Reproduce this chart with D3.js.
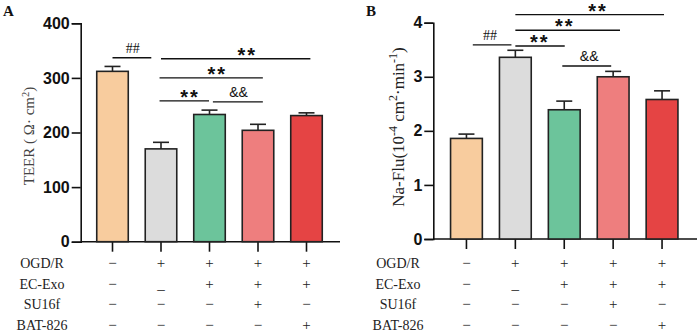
<!DOCTYPE html>
<html>
<head>
<meta charset="utf-8">
<script src="https://cdn.jsdelivr.net/npm/d3@7"></script>
<style>
  body { margin: 0; background: #fff; }
  svg { display: block; }
  .tick text { font-family: "Liberation Sans", Arial, sans-serif; font-weight: bold; font-size: 16px; fill: #111; }
</style>
</head>
<body>
<svg id="chart" width="699" height="333"></svg>
<script>
// groups, shared by both panels
const groups = ["Control", "OGD/R", "OGD/R+EC-Exo", "OGD/R+EC-Exo+SU16f", "OGD/R+EC-Exo+BAT-826"];
const barColors = ["#F8CC9E", "#DCDCDC", "#6CC49B", "#EE7E7E", "#E54444"];

// panel A: TEER
const teerMean = [312, 170, 233, 204, 231];
const teerErr = [9, 12, 8, 11, 5];
const teerTicks = [0, 100, 200, 300, 400];
// [from group, to group, y value, label, label position] (group positions, fractional)
const teerSig = [
  [0.0, 0.8, 337, "##", 0.42],
  [1.0, 4.08, 335, "**", 2.78],
  [0.97, 3.1, 300, "**", 2.16],
  [0.97, 1.99, 258, "**", 1.6],
  [2.07, 3.1, 256, "&&", 2.6]
];

// panel B: Na-Flu
const fluMean = [1.86, 3.36, 2.39, 3.0, 2.58];
const fluErr = [0.08, 0.13, 0.16, 0.1, 0.16];
const fluTicks = [0, 1, 2, 3, 4];
const fluSig = [
  [0.13, 0.92, 3.59, "##", 0.48],
  [1.0, 2.01, 3.57, "**", 1.5],
  [1.0, 3.14, 3.86, "**", 2.01],
  [1.0, 4.04, 4.15, "**", 2.69],
  [1.96, 2.96, 3.2, "&&", 2.51]
];

// treatment table under the bars
const conditions = ["OGD/R", "EC-Exo", "SU16f", "BAT-826"];
const signs = [
  ["\u2212", "+", "+", "+", "+"],
  ["\u2212", "_", "+", "+", "+"],
  ["\u2212", "\u2212", "\u2212", "+", "\u2212"],
  ["\u2212", "\u2212", "\u2212", "\u2212", "+"]
];

const svg = d3.select("#chart");
const SANS = "'Liberation Sans', Arial, sans-serif";
const SERIF = "'Liberation Serif', 'Times New Roman', serif";

function drawPanel(cfg) {
  const g = svg.append("g");

  const y = d3.scaleLinear().domain(cfg.yDomain).range([cfg.y0, cfg.yTop]);
  const x = d3.scaleBand().domain(groups)
    .range(cfg.bandRange).paddingInner(0.35).paddingOuter(0.175);
  const step = x.step();
  const cx0 = x(groups[0]) + x.bandwidth() / 2;
  const pos = (i) => cx0 + i * step; // fractional group position -> px

  // y axis
  const yAxis = g.append("g")
    .attr("transform", `translate(${cfg.axisX},0)`)
    .call(d3.axisLeft(y).tickValues(cfg.ticks).tickFormat(d3.format("d")).tickSize(9).tickPadding(2));
  yAxis.select(".domain").attr("stroke", "#111").attr("stroke-width", 1.6);
  yAxis.selectAll(".tick line").attr("stroke", "#111").attr("stroke-width", 1.6);

  // x axis line with ticks pointing down at each bar
  const xAxis = g.append("g")
    .attr("transform", `translate(0,${cfg.y0})`)
    .call(d3.axisBottom(x).tickSize(10).tickFormat(""));
  xAxis.select(".domain").attr("d", `M${cfg.axisX},0H${cfg.axisEnd}`)
    .attr("stroke", "#111").attr("stroke-width", 1.6);
  xAxis.selectAll(".tick line").attr("stroke", "#111").attr("stroke-width", 1.6);

  // error bars (drawn under bars)
  const capW = 16;
  const err = g.append("g").attr("stroke", "#222").attr("stroke-width", 1.6);
  groups.forEach((k, i) => {
    const c = x(k) + x.bandwidth() / 2;
    err.append("line").attr("x1", c).attr("x2", c)
      .attr("y1", y(cfg.mean[i])).attr("y2", y(cfg.mean[i] + cfg.err[i]));
    err.append("line").attr("x1", c - capW / 2).attr("x2", c + capW / 2)
      .attr("y1", y(cfg.mean[i] + cfg.err[i])).attr("y2", y(cfg.mean[i] + cfg.err[i]));
  });

  // bars
  g.append("g").selectAll("rect").data(groups).join("rect")
    .attr("x", (d) => x(d))
    .attr("width", x.bandwidth())
    .attr("y", (d, i) => y(cfg.mean[i]))
    .attr("height", (d, i) => cfg.y0 - y(cfg.mean[i]))
    .attr("fill", (d, i) => barColors[i])
    .attr("stroke", "#222")
    .attr("stroke-width", 1.6);

  // significance lines
  const sig = g.append("g");
  cfg.sig.forEach(([a, b, v, label, t]) => {
    sig.append("line").attr("x1", pos(a)).attr("x2", pos(b))
      .attr("y1", y(v)).attr("y2", y(v))
      .attr("stroke", "#111").attr("stroke-width", 1.4);
    const isStar = label === "**";
    sig.append("text")
      .attr("x", pos(t))
      .attr("y", isStar ? y(v) + 3 : y(v) - 5)
      .attr("text-anchor", "middle")
      .style("font-family", label === "##" ? SERIF : SANS)
      .style("font-weight", isStar ? "bold" : "normal")
      .style("font-size", isStar ? "20px" : "14px")
      .style("letter-spacing", isStar ? "2px" : "0px")
      .attr("fill", "#111")
      .text(label);
  });

  // y label
  const yl = g.append("text")
    .attr("transform", `translate(${cfg.labelX},${cfg.labelY}) rotate(-90)`)
    .attr("text-anchor", "middle")
    .attr("fill", cfg.labelColor)
    .style("font-family", SERIF)
    .style("font-size", cfg.labelSize + "px");
  cfg.label.forEach(([s, sup]) => {
    const ts = yl.append("tspan").text(s);
    if (sup) ts.attr("baseline-shift", "super").style("font-size", (cfg.labelSize * 0.7) + "px");
  });

  // panel letter
  g.append("text")
    .attr("x", cfg.letterX).attr("y", 16)
    .style("font-family", SERIF)
    .style("font-size", "15px").style("font-weight", "bold")
    .attr("fill", "#111")
    .text(cfg.letter);

  // treatment table
  const rowY = (r) => 263.5 + r * 20.5 + 4.5;
  const table = g.append("g").style("font-family", SERIF).style("font-size", "14px").attr("fill", "#222");
  conditions.forEach((name, r) => {
    table.append("text").attr("x", cfg.rowLabelX).attr("y", rowY(r))
      .attr("text-anchor", "middle").text(name);
    signs[r].forEach((s, i) => {
      table.append("text")
        .attr("x", x(groups[i]) + x.bandwidth() / 2)
        .attr("y", rowY(r))
        .attr("text-anchor", "middle")
        .style("font-size", "15px")
        .text(s);
    });
  });
}

drawPanel({
  letter: "A", letterX: 3,
  yDomain: [0, 400], ticks: teerTicks, y0: 241.7, yTop: 23.3,
  axisX: 80.7, axisEnd: 340, bandRange: [88.25, 330.75],
  mean: teerMean, err: teerErr, sig: teerSig,
  label: [["TEER ( \u03A9\u00B7 cm"], ["2", true], [")"]],
  labelX: 34, labelY: 136, labelSize: 15, labelColor: "#444",
  rowLabelX: 42
});

drawPanel({
  letter: "B", letterX: 366,
  yDomain: [0, 4], ticks: fluTicks, y0: 239, yTop: 22.7,
  axisX: 433.3, axisEnd: 697, bandRange: [442, 686.5],
  mean: fluMean, err: fluErr, sig: fluSig,
  label: [["Na-Flu(10"], ["-4", true], [" cm"], ["2", true], ["\u00B7min"], ["-1", true], [")"]],
  labelX: 404, labelY: 127, labelSize: 17, labelColor: "#222",
  rowLabelX: 398
});
</script>
</body>
</html>
